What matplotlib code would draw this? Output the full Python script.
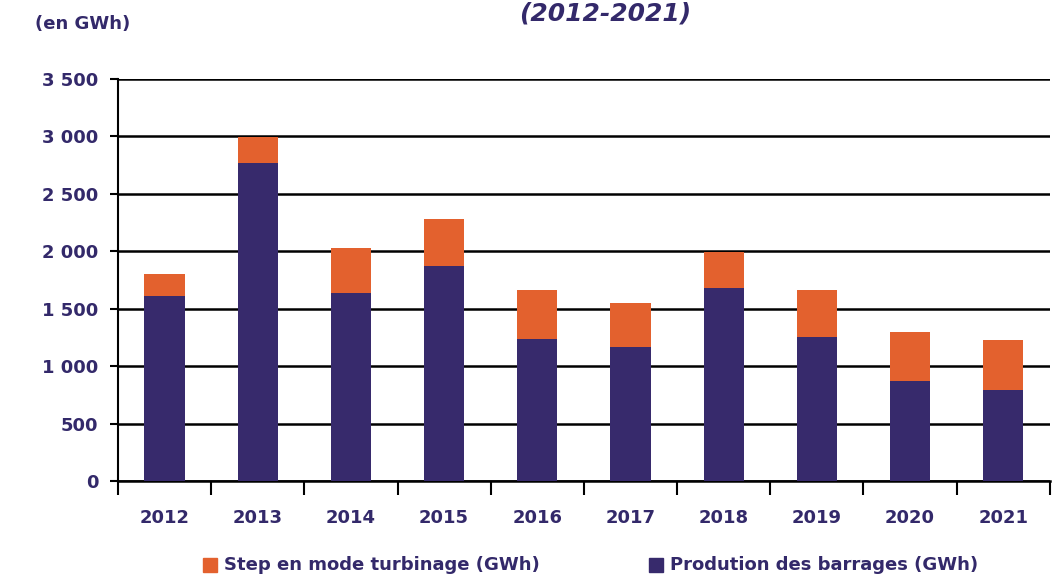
import matplotlib
matplotlib.use("Agg")
import matplotlib.pyplot as plt
from matplotlib.patches import Rectangle
from matplotlib import font_manager

years = ["2012", "2013", "2014", "2015", "2016", "2017", "2018", "2019", "2020", "2021"]
barrages = [1610, 2770, 1640, 1870, 1235, 1170, 1680, 1250, 870, 795]
step = [190, 225, 390, 410, 425, 380, 315, 410, 430, 435]
yticks = [0, 500, 1000, 1500, 2000, 2500, 3000, 3500]
ytick_labels = ["0", "500", "1 000", "1 500", "2 000", "2 500", "3 000", "3 500"]

PURPLE = "#372a6c"
ORANGE = "#e3612e"
TEXT = "#33296a"

available = {f.name for f in font_manager.fontManager.ttflist}
family = "Liberation Sans Narrow" if "Liberation Sans Narrow" in available else "DejaVu Sans"
plt.rcParams["font.family"] = [family, "DejaVu Sans"]

fig = plt.figure(figsize=(10.53, 5.8), dpi=100)
ax = fig.add_axes([0.112, 0.1707, 0.885, 0.6931])

x = list(range(len(years)))
w = 0.43
ax.bar(x, barrages, width=w, color=PURPLE, zorder=3)
ax.bar(x, step, width=w, bottom=barrages, color=ORANGE, zorder=3)

ax.set_xlim(-0.5, len(years) - 0.5)
ax.set_ylim(0, 3500)
ax.set_yticks(yticks)
ax.set_yticklabels(ytick_labels, fontsize=13, fontweight="bold", color=TEXT)
ax.yaxis.grid(True, color="black", linewidth=1.8, zorder=1)
ax.set_axisbelow(True)
ax.tick_params(axis="y", length=6, width=1.5, color="black", pad=8)

ax.set_xticks([i - 0.5 for i in range(len(years) + 1)], minor=False)
ax.set_xticklabels([""] * (len(years) + 1))
ax.tick_params(axis="x", length=10, width=1.5, color="black")
ax.set_xticks(x, minor=True)
ax.set_xticklabels(years, minor=True, fontsize=13, fontweight="bold", color=TEXT)
ax.tick_params(axis="x", which="minor", length=0, pad=20)

for s in ["top", "right"]:
    ax.spines[s].set_visible(False)
ax.spines["left"].set_linewidth(1.5)
ax.spines["bottom"].set_linewidth(1.8)

fig.text(35 / 1053, 1 - 24 / 580, "(en GWh)", fontsize=13, fontweight="bold",
         color=TEXT, ha="left", va="center")
fig.text(605 / 1053, 1 - 21 / 580, "(2012-2021)", fontsize=18, fontweight="bold",
         style="italic", color=TEXT, ha="center", va="baseline")

# legend drawn as figure-level markers
leg_y = 1 - 565 / 580
for x0, col, label in [(203, ORANGE, "Step en mode turbinage (GWh)"),
                       (649, PURPLE, "Prodution des barrages (GWh)")]:
    fig.patches.append(Rectangle((x0 / 1053, leg_y - 7 / 580), 14 / 1053, 14 / 580,
                                 transform=fig.transFigure, color=col))
    fig.text((x0 + 21) / 1053, leg_y, label, fontsize=13, fontweight="bold",
             color=TEXT, ha="left", va="center")

fig.savefig("out.png", dpi=100)
